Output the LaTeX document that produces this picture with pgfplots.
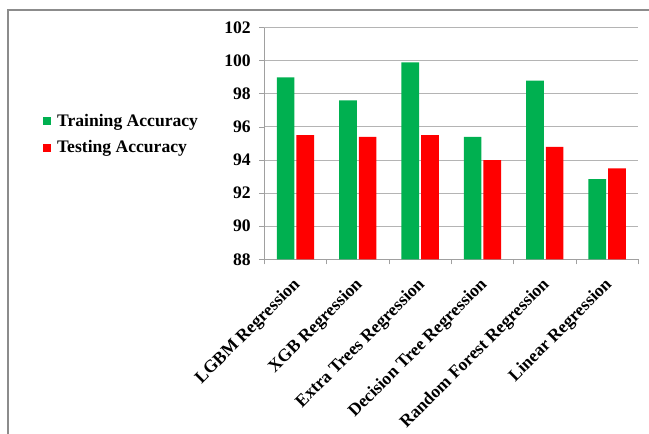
\documentclass[border=0pt]{standalone}
\usepackage{fontspec}
\setmainfont{Liberation Serif}
\usepackage{pgfplots}
\usepackage{pgfplotstable}
\pgfplotsset{compat=1.18}

\definecolor{trainG}{HTML}{00B050}
\definecolor{testR}{HTML}{FF0000}
\definecolor{frameG}{HTML}{8C8C8C}
\definecolor{gridG}{HTML}{B4B4B4}
\definecolor{axisG}{HTML}{A0A0A0}

% model accuracies (%)
\pgfplotstableread{
idx train test
0   99.0  95.5
1   97.6  95.4
2   99.9  95.5
3   95.4  94.0
4   98.8  94.8
5   92.85 93.5
}\acctable

\newcommand{\lblfont}{\bfseries\fontsize{17.6}{20}\selectfont}

\begin{document}
\begin{tikzpicture}[x=1pt,y=1pt]
\useasboundingbox (0,0) rectangle (649,434);
% outer frame (top and left edges)
\draw[frameG, line width=2pt] (7.5,0) -- (7.5,423.5) -- (649,423.5);
\begin{axis}[
  at={(264.3pt,174.7pt)}, anchor=south west,
  scale only axis, width=374pt, height=231.6pt,
  xmin=-0.5, xmax=5.5,
  ymin=88, ymax=102, ytick={88,90,...,102},
  xtick={-0.5,0.5,...,5.5},
  x tick label as interval,
  xticklabels={LGBM Regression, XGB Regression, Extra Trees Regression, Decision Tree Regression, Random Forest Regression, Linear Regression},
  axis x line*=bottom, axis y line*=left,
  axis line style={axisG, line width=0.9pt, -},
  tick style={axisG, line width=0.9pt},
  tick align=outside, major tick length=5pt,
  ymajorgrids, grid style={gridG, line width=1pt},
  /pgf/number format/assume math mode=true,
  ticklabel style={font=\lblfont, black},
  yticklabel style={xshift=-5pt},
  xticklabel style={rotate=45, anchor=north east, inner sep=6pt, xshift=-5pt},
  ybar, bar width=17.7pt,
  legend style={
    at={(-0.592,0.54)}, anchor=west,
    draw=none, fill=none, inner sep=0pt,
    font=\lblfont, row sep=13pt,
    nodes={inner sep=0pt},
  },
  legend cell align=left,
  legend image code/.code={\fill[#1] (0pt,-4pt) rectangle (8pt,4pt); \path (14pt,0pt);},
]
\addplot[fill=trainG, draw=none] table[x=idx, y=train] {\acctable};
\addplot[fill=testR, draw=none] table[x=idx, y=test] {\acctable};
\legend{Training Accuracy, Testing Accuracy}
\end{axis}
\end{tikzpicture}
\end{document}
